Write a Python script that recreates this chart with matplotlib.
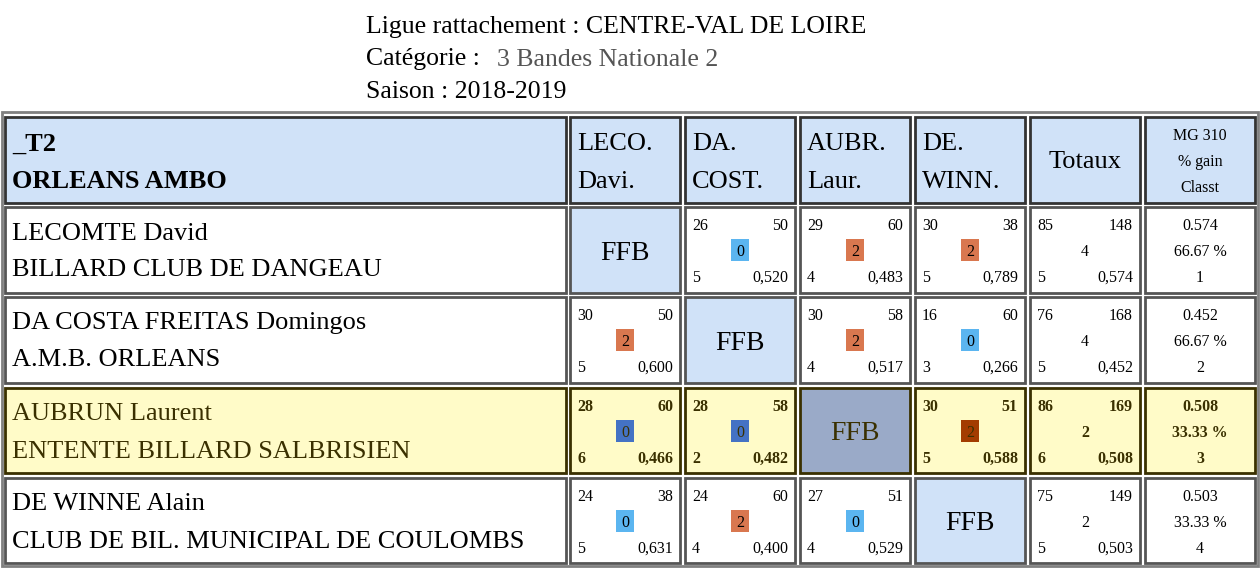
import matplotlib
matplotlib.use("Agg")
import matplotlib.pyplot as plt
from matplotlib.patches import Rectangle

title_lines = ["Ligue rattachement : CENTRE-VAL DE LOIRE", "Catégorie : ", "Saison : 2018-2019"]
category = "3 Bandes Nationale 2"
team = ["_T2", "ORLEANS AMBO"]
col_heads = [["LECO.", "Davi."], ["DA.", "COST."], ["AUBR.", "Laur."], ["DE.", "WINN."]]
players = ["LECOMTE David", "DA COSTA FREITAS Domingos", "AUBRUN Laurent", "DE WINNE Alain"]
clubs = ["BILLARD CLUB DE DANGEAU", "A.M.B. ORLEANS", "ENTENTE BILLARD SALBRISIEN",
         "CLUB DE BIL. MUNICIPAL DE COULOMBS"]
# (points, reprises, serie, moyenne, match points) ; None = FFB
results = [
    [None, (26, 50, 5, "0,520", 0), (29, 60, 4, "0,483", 2), (30, 38, 5, "0,789", 2)],
    [(30, 50, 5, "0,600", 2), None, (30, 58, 4, "0,517", 2), (16, 60, 3, "0,266", 0)],
    [(28, 60, 6, "0,466", 0), (28, 58, 2, "0,482", 0), None, (30, 51, 5, "0,588", 2)],
    [(24, 38, 5, "0,631", 0), (24, 60, 4, "0,400", 2), (27, 51, 4, "0,529", 0), None],
]
totals = [(85, 148, 4, 5, "0,574"), (76, 168, 4, 5, "0,452"), (86, 169, 2, 6, "0,508"), (75, 149, 2, 5, "0,503")]
summary = [("0.574", "66.67 %", "1"), ("0.452", "66.67 %", "2"), ("0.508", "33.33 %", "3"), ("0.503", "33.33 %", "4")]
highlight = 2

fig = plt.figure(figsize=(12.6, 5.68), dpi=100)
ax = fig.add_axes([0, 0, 1, 1])
ax.set_xlim(0, 1260); ax.set_ylim(568, 0); ax.axis("off")
FONT = ["Liberation Serif", "Times New Roman", "DejaVu Serif"]
BIG = 19
SMALL = 11.5
VA = "center_baseline"

for i, t in enumerate(title_lines):
    ax.text(366, 24 + 33 * i, t, fontsize=18.5, family=FONT, va=VA, color="black")
ax.text(497, 57, category, fontsize=18.5, family=FONT, va=VA, color="#555555")

ax.add_patch(Rectangle((2, 112), 1256, 454, fill=False, ec="#808080", lw=2))
xs = [(5, 566), (570, 680), (685, 795), (800, 910), (915, 1025), (1030, 1140), (1145, 1255)]
ys = [(117, 203), (207, 293), (297, 383), (388, 473), (478, 563)]
HEAD = "#d0e2f8"
YEL = "#fffbc8"

def cell(c, r, fc, ec="#333333"):
    x0, x1 = xs[c]; y0, y1 = ys[r]
    ax.add_patch(Rectangle((x0, y0), x1 - x0, y1 - y0, fc=fc, ec=ec, lw=2))
    return x0, x1, y0, y1

x0, x1, y0, y1 = cell(0, 0, HEAD)
ax.text(12, 142, team[0], fontsize=BIG, family=FONT, weight="bold", va=VA)
ax.text(12, 179, team[1], fontsize=BIG, family=FONT, weight="bold", va=VA)
for j, h in enumerate(col_heads):
    x0, x1, y0, y1 = cell(j + 1, 0, HEAD)
    ax.text(x0 + 7, 142, h[0], fontsize=BIG, family=FONT, va=VA)
    ax.text(x0 + 7, 179, h[1], fontsize=BIG, family=FONT, va=VA)
x0, x1, y0, y1 = cell(5, 0, HEAD)
ax.text((x0 + x1) / 2, 160, "Totaux", fontsize=BIG, family=FONT, ha="center", va=VA)
x0, x1, y0, y1 = cell(6, 0, HEAD)
for k, t in enumerate(["MG 310", "% gain", "Classt"]):
    ax.text((x0 + x1) / 2, 134 + 26 * k, t, fontsize=SMALL, family=FONT, ha="center", va=VA)

for i in range(4):
    hl = i == highlight
    bg = YEL if hl else "white"
    tc = "#3a3000" if hl else "black"
    ec = "#3a3000" if hl else "#555555"
    fw = "bold" if hl else "normal"
    x0, x1, y0, y1 = cell(0, i + 1, bg, ec)
    ax.text(12, y0 + 24, players[i], fontsize=BIG, family=FONT, va=VA, color=tc)
    ax.text(12, y0 + 61, clubs[i], fontsize=BIG, family=FONT, va=VA, color=tc)
    for j in range(4):
        res = results[i][j]
        if res is None:
            x0, x1, y0, y1 = cell(j + 1, i + 1, "#9aaac8" if hl else HEAD, ec)
            ax.text((x0 + x1) / 2, (y0 + y1) / 2, "FFB", fontsize=20, family=FONT,
                    ha="center", va=VA, color=tc)
            continue
        x0, x1, y0, y1 = cell(j + 1, i + 1, bg, ec)
        p, rep, ser, moy, mp = res
        kw = dict(fontsize=SMALL, family=FONT, va=VA, color=tc, weight=fw)
        ax.text(x0 + 7, y0 + 17, str(p), **kw)
        ax.text(x1 - 7, y0 + 17, str(rep), ha="right", **kw)
        ax.text(x0 + 7, y0 + 69, str(ser), **kw)
        ax.text(x1 - 7, y0 + 69, moy, ha="right", **kw)
        if hl:
            bc = "#4472c4" if mp == 0 else "#a33c00"
        else:
            bc = "#5bb5f0" if mp == 0 else "#d9774f"
        cx, cy = (x0 + x1) / 2, y0 + 43
        ax.add_patch(Rectangle((cx - 9, cy - 11), 18, 22, fc=bc, ec="none"))
        ax.text(cx, cy, str(mp), fontsize=SMALL, family=FONT, ha="center", va=VA, color=tc)
    x0, x1, y0, y1 = cell(5, i + 1, bg, ec)
    p, rep, mp, ser, moy = totals[i]
    kw = dict(fontsize=SMALL, family=FONT, va=VA, color=tc, weight=fw)
    ax.text(x0 + 7, y0 + 17, str(p), **kw)
    ax.text(x1 - 7, y0 + 17, str(rep), ha="right", **kw)
    ax.text((x0 + x1) / 2, y0 + 43, str(mp), ha="center", **kw)
    ax.text(x0 + 7, y0 + 69, str(ser), **kw)
    ax.text(x1 - 7, y0 + 69, moy, ha="right", **kw)
    x0, x1, y0, y1 = cell(6, i + 1, bg, ec)
    for k, t in enumerate(summary[i]):
        ax.text((x0 + x1) / 2, y0 + 17 + 26 * k, t, ha="center", **kw)

fig.savefig("out.png", dpi=100)
